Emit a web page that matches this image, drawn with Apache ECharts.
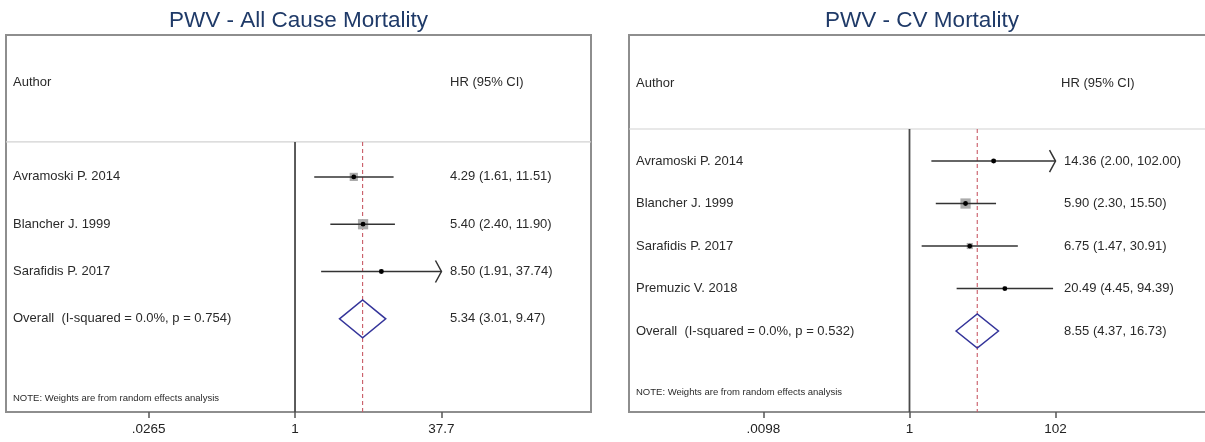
<!DOCTYPE html>
<html>
<head>
<meta charset="utf-8">
<script src="https://cdn.jsdelivr.net/npm/echarts@6/dist/echarts.min.js"></script>
<style>
  html, body { margin: 0; padding: 0; background: #fff; overflow: hidden; }
  #chart { width: 1220px; height: 442px; }
</style>
</head>
<body>
<div id="chart"></div>
<script>
// ---- All cause mortality ----
const acTitle = 'PWV - All Cause Mortality';
const acAuthors = ['Avramoski P. 2014', 'Blancher J. 1999', 'Sarafidis P. 2017'];
const acHR = [4.29, 5.40, 8.50];
const acLo = [1.61, 2.40, 1.91];
const acHi = [11.51, 11.90, 37.74];
const acWeight = [32, 50, 8];
const acOverallLabel = 'Overall  (I-squared = 0.0%, p = 0.754)';
const acOverall = [5.34, 3.01, 9.47];
const acTicks = [0.0265, 1, 37.7];
const acTickLabels = ['.0265', '1', '37.7'];

// ---- CV mortality ----
const cvTitle = 'PWV - CV Mortality';
const cvAuthors = ['Avramoski P. 2014', 'Blancher J. 1999', 'Sarafidis P. 2017', 'Premuzic V. 2018'];
const cvHR = [14.36, 5.90, 6.75, 20.49];
const cvLo = [2.00, 2.30, 1.47, 4.45];
const cvHi = [102.00, 15.50, 30.91, 94.39];
const cvWeight = [8, 50, 18, 8];
const cvOverallLabel = 'Overall  (I-squared = 0.0%, p = 0.532)';
const cvOverall = [8.55, 4.37, 16.73];
const cvTicks = [0.0098, 1, 102];
const cvTickLabels = ['.0098', '1', '102'];

const headerAuthor = 'Author';
const headerHR = 'HR (95% CI)';
const noteText = 'NOTE: Weights are from random effects analysis';

const FONT = '"Liberation Sans", Arial, Helvetica, sans-serif';
const TEXT_COLOR = '#2a2a2a';
const BODY_SIZE = 13;
const lg = Math.log10;
const fmt = (hr, lo, hi) => hr.toFixed(2) + ' (' + lo.toFixed(2) + ', ' + hi.toFixed(2) + ')';

function textEl(x, y, text, size, align) {
  return {
    type: 'text', x: x, y: y, silent: true,
    style: { text: text, fill: TEXT_COLOR, fontFamily: FONT, fontSize: size,
             align: align || 'left', verticalAlign: 'middle' }
  };
}

// One forest-plot panel: frame lines + header/note, study rows, pooled diamond, axes
function makePanel(idx, cfg) {
  const studies = cfg.authors.map((a, i) => [i, cfg.hr[i], cfg.lo[i], cfg.hi[i], cfg.weight[i]]);
  const overallRow = cfg.authors.length;
  const lowTick = cfg.ticks[0];
  const highTick = cfg.ticks[cfg.ticks.length - 1];

  const frame = {
    type: 'custom', xAxisIndex: idx, yAxisIndex: idx, z: 1, silent: true,
    data: [[0, cfg.overall[0]]],
    renderItem: function (params, api) {
      const cs = params.coordSys;
      const sepY = api.coord([0, cfg.sepRow])[1];
      const bottom = cs.y + cs.height;
      const nullX = api.coord([lg(cfg.ticks[1]), 0])[0];
      const ovX = api.coord([lg(api.value(1)), 0])[0];
      return {
        type: 'group',
        children: [
          { type: 'line', shape: { x1: cs.x, y1: sepY, x2: cs.x + cs.width, y2: sepY },
            style: { stroke: '#d2d2d2', lineWidth: 1.2 } },
          { type: 'line', shape: { x1: nullX, y1: sepY, x2: nullX, y2: bottom },
            style: { stroke: '#4a4a4a', lineWidth: 1.8 } },
          { type: 'line', shape: { x1: ovX, y1: sepY, x2: ovX, y2: bottom },
            style: { stroke: '#c95a66', lineWidth: 1.1, lineDash: [4, 3] } },
          textEl(cs.x + cfg.nameOffset, api.coord([0, cfg.headRow])[1], headerAuthor, BODY_SIZE),
          textEl(cs.x + cfg.headOffset, api.coord([0, cfg.headRow])[1], headerHR, BODY_SIZE),
          textEl(cs.x + cfg.nameOffset, api.coord([0, cfg.noteRow])[1], noteText, 9.5)
        ]
      };
    }
  };

  const studySeries = {
    type: 'custom', xAxisIndex: idx, yAxisIndex: idx, z: 3, silent: true,
    data: studies,
    renderItem: function (params, api) {
      const cs = params.coordSys;
      const row = api.value(0), hr = api.value(1), lo = api.value(2), hi = api.value(3), w = api.value(4);
      const p = api.coord([lg(hr), row]);
      const pLo = api.coord([lg(Math.max(lo, lowTick)), row]);
      const pHi = api.coord([lg(Math.min(hi, highTick)), row]);
      const side = 1.45 * Math.sqrt(w);
      const y = p[1];
      const children = [
        { type: 'rect', shape: { x: p[0] - side / 2, y: y - side / 2, width: side, height: side },
          style: { fill: '#ababab' } },
        { type: 'line', shape: { x1: pLo[0], y1: y, x2: pHi[0], y2: y },
          style: { stroke: '#333', lineWidth: 1.5 } },
        { type: 'circle', shape: { cx: p[0], cy: y, r: 2.4 }, style: { fill: '#000' } },
        textEl(cs.x + cfg.nameOffset, y, cfg.authors[row], BODY_SIZE),
        textEl(cs.x + cfg.valOffset, y, fmt(hr, lo, hi), BODY_SIZE)
      ];
      if (hi >= highTick) {
        children.push({ type: 'polyline',
          shape: { points: [[pHi[0] - 6, y - 11], [pHi[0], y], [pHi[0] - 6, y + 11]] },
          style: { stroke: '#333', lineWidth: 1.5, fill: null } });
      }
      return { type: 'group', children: children };
    }
  };

  const overallSeries = {
    type: 'custom', xAxisIndex: idx, yAxisIndex: idx, z: 3, silent: true,
    data: [[overallRow, cfg.overall[0], cfg.overall[1], cfg.overall[2]]],
    renderItem: function (params, api) {
      const cs = params.coordSys;
      const row = api.value(0), hr = api.value(1), lo = api.value(2), hi = api.value(3);
      const p = api.coord([lg(hr), row]);
      const pLo = api.coord([lg(lo), row]);
      const pHi = api.coord([lg(hi), row]);
      const half = 0.4 * api.size([0, 1])[1];
      return {
        type: 'group',
        children: [
          { type: 'polygon',
            shape: { points: [[pLo[0], p[1]], [p[0], p[1] - half], [pHi[0], p[1]], [p[0], p[1] + half]] },
            style: { stroke: '#34349a', lineWidth: 1.5, fill: null } },
          textEl(cs.x + cfg.nameOffset, p[1], cfg.overallLabel, BODY_SIZE),
          textEl(cs.x + cfg.valOffset, p[1], fmt(hr, lo, hi), BODY_SIZE)
        ]
      };
    }
  };

  const tickLogs = cfg.ticks.map(lg);
  const xAxis = {
    type: 'value', gridIndex: idx, min: cfg.xMin, max: cfg.xMax, position: 'bottom',
    splitLine: { show: false },
    axisLine: { show: false, onZero: false },
    axisTick: { show: true, customValues: tickLogs, length: 6, lineStyle: { color: '#555', width: 1.5 } },
    axisLabel: {
      show: true, customValues: tickLogs, margin: 10,
      color: '#222', fontFamily: FONT, fontSize: 13.5,
      formatter: function (v) {
        let best = 0;
        tickLogs.forEach((t, i) => { if (Math.abs(t - v) < Math.abs(tickLogs[best] - v)) best = i; });
        return cfg.tickLabels[best];
      }
    }
  };
  const yAxis = {
    type: 'value', gridIndex: idx, inverse: true, min: cfg.yMin, max: cfg.yMax, show: false
  };
  return { series: [frame, studySeries, overallSeries], xAxis: xAxis, yAxis: yAxis };
}

const left = makePanel(0, {
  authors: acAuthors, hr: acHR, lo: acLo, hi: acHi, weight: acWeight,
  overall: acOverall, overallLabel: acOverallLabel, ticks: acTicks, tickLabels: acTickLabels,
  xMin: -3.111, xMax: 3.186, yMin: -3.0, yMax: 4.97,
  headRow: -2.0, sepRow: -0.74, noteRow: 4.69,
  nameOffset: 7, headOffset: 444, valOffset: 444
});
const right = makePanel(1, {
  authors: cvAuthors, hr: cvHR, lo: cvLo, hi: cvHi, weight: cvWeight,
  overall: cvOverall, overallLabel: cvOverallLabel, ticks: cvTicks, tickLabels: cvTickLabels,
  xMin: -3.858, xMax: 4.202, yMin: -2.965, yMax: 5.905,
  headRow: -1.835, sepRow: -0.753, noteRow: 5.435,
  nameOffset: 7, headOffset: 432, valOffset: 435
});

const chart = echarts.init(document.getElementById('chart'), null, { renderer: 'canvas' });
chart.setOption({
  animation: false,
  backgroundColor: '#fff',
  graphic: [
    { type: 'text', x: 298.5, y: 21, silent: true,
      style: { text: acTitle, fill: '#1f3a68', fontFamily: FONT, fontSize: 22.5,
               align: 'center', verticalAlign: 'middle' } },
    { type: 'text', x: 922, y: 21, silent: true,
      style: { text: cvTitle, fill: '#1f3a68', fontFamily: FONT, fontSize: 22.5,
               align: 'center', verticalAlign: 'middle' } }
  ],
  grid: [
    { left: 6, top: 35, width: 585, height: 377, show: true,
      borderColor: '#8e8e8e', borderWidth: 2, backgroundColor: 'transparent' },
    { left: 629, top: 35, width: 586, height: 377, show: true,
      borderColor: '#8e8e8e', borderWidth: 2, backgroundColor: 'transparent' }
  ],
  xAxis: [left.xAxis, right.xAxis],
  yAxis: [left.yAxis, right.yAxis],
  series: left.series.concat(right.series)
});
</script>
</body>
</html>
